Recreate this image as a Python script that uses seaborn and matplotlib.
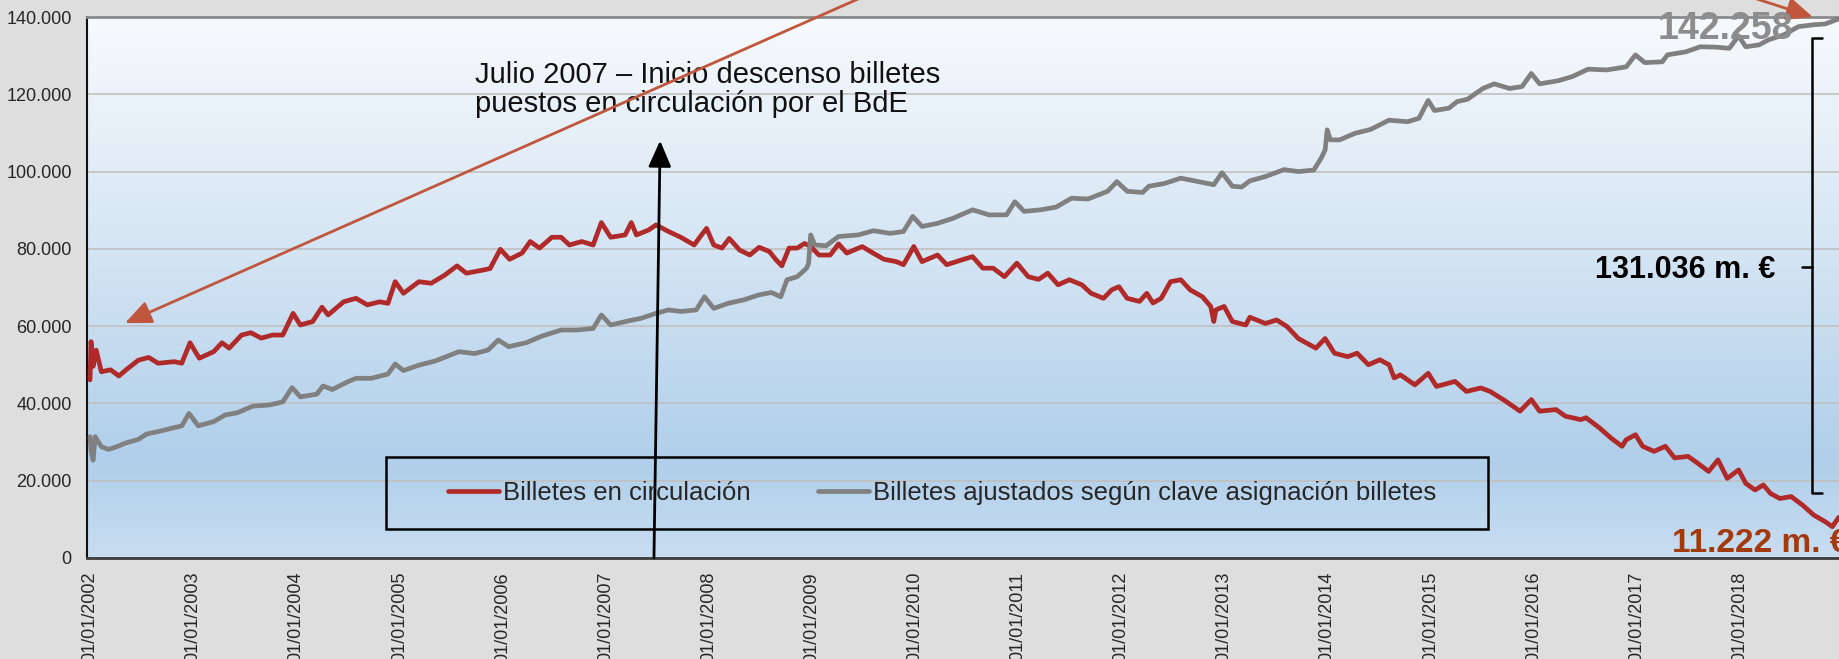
import matplotlib
matplotlib.use("Agg")
import matplotlib.pyplot as plt
import seaborn as sns
import pandas as pd
import numpy as np
from matplotlib.colors import LinearSegmentedColormap
from matplotlib.patches import Rectangle
from matplotlib.ticker import FuncFormatter

# Billetes en circulación (millones de euros), fecha en años decimales
red_years = [2002.00, 2002.01, 2002.03, 2002.06, 2002.11, 2002.20, 2002.28, 2002.35, 2002.47, 2002.57,
             2002.66, 2002.82, 2002.89, 2002.97, 2003.06, 2003.20, 2003.28, 2003.35, 2003.47, 2003.56,
             2003.66, 2003.77, 2003.87, 2003.97, 2004.04, 2004.16, 2004.25, 2004.31, 2004.46, 2004.58,
             2004.69, 2004.81, 2004.89, 2004.96, 2005.04, 2005.19, 2005.31, 2005.44, 2005.56, 2005.65,
             2005.81, 2005.88, 2005.98, 2006.07, 2006.19, 2006.27, 2006.36, 2006.48, 2006.57, 2006.65,
             2006.77, 2006.88, 2006.96, 2007.05, 2007.19, 2007.25, 2007.30, 2007.42, 2007.49, 2007.61,
             2007.73, 2007.86, 2007.92, 2007.98, 2008.05, 2008.13, 2008.20, 2008.30, 2008.40, 2008.49,
             2008.59, 2008.65, 2008.71, 2008.78, 2008.86, 2008.93, 2008.99, 2009.07, 2009.18, 2009.26,
             2009.34, 2009.49, 2009.57, 2009.70, 2009.82, 2009.89, 2009.99, 2010.07, 2010.22, 2010.31,
             2010.45, 2010.56, 2010.66, 2010.76, 2010.87, 2010.99, 2011.10, 2011.20, 2011.29, 2011.39,
             2011.50, 2011.62, 2011.71, 2011.83, 2011.91, 2011.98, 2012.06, 2012.18, 2012.25, 2012.31,
             2012.39, 2012.48, 2012.58, 2012.67, 2012.79, 2012.87, 2012.90, 2012.92, 2013.00, 2013.08,
             2013.21, 2013.25, 2013.40, 2013.51, 2013.61, 2013.72, 2013.89, 2013.98, 2014.07, 2014.20,
             2014.29, 2014.40, 2014.51, 2014.60, 2014.65, 2014.71, 2014.85, 2014.98, 2015.06, 2015.24,
             2015.35, 2015.49, 2015.58, 2015.73, 2015.87, 2015.98, 2016.06, 2016.22, 2016.31, 2016.46,
             2016.51, 2016.64, 2016.75, 2016.86, 2016.90, 2016.99, 2017.06, 2017.17, 2017.28, 2017.37,
             2017.50, 2017.59, 2017.70, 2017.79, 2017.88, 2017.99, 2018.06, 2018.15, 2018.23, 2018.30,
             2018.39, 2018.50, 2018.61, 2018.72, 2018.83, 2018.90, 2018.96]
red_values = [46100, 56000, 49600, 53800, 48200, 48700, 47100, 48700, 51200, 51900,
              50400, 50800, 50400, 55700, 51700, 53400, 55700, 54300, 57700, 58300,
              56900, 57700, 57700, 63300, 60300, 61200, 64900, 62900, 66300, 67200,
              65500, 66300, 65900, 71500, 68500, 71500, 71100, 73200, 75600, 73700,
              74500, 74900, 79900, 77300, 78900, 81900, 80200, 83000, 83000, 81000,
              81900, 81000, 86800, 83000, 83600, 86800, 83600, 84900, 86200, 84500,
              83000, 81000, 83200, 85300, 81000, 80200, 82700, 79700, 78400, 80400,
              79300, 77300, 75600, 80200, 80200, 81400, 80600, 78400, 78400, 81300,
              78900, 80600, 79300, 77300, 76700, 75900, 80600, 76700, 78400, 75900,
              77100, 78000, 75000, 75000, 72800, 76300, 72800, 72100, 73700, 70700,
              72000, 70700, 68500, 67200, 69400, 70200, 67200, 66400, 68500, 66000,
              67200, 71500, 72000, 69400, 67600, 65100, 61200, 64200, 65100, 61200,
              60300, 62300, 60700, 61600, 59900, 56800, 54300, 56800, 53000, 52100,
              53000, 50000, 51300, 50000, 46600, 47400, 44800, 47800, 44400, 45700,
              43100, 44000, 43100, 40600, 38000, 41000, 38000, 38400, 36700, 35800,
              36300, 33700, 31100, 28900, 30600, 31900, 28900, 27600, 28900, 25900,
              26300, 24600, 22400, 25400, 20600, 22800, 19300, 17600, 18900, 16700,
              15400, 15900, 13700, 11100, 9400, 8100, 10500]

# Billetes ajustados según clave asignación billetes
gray_years = [2002.00, 2002.01, 2002.03, 2002.05, 2002.11, 2002.18, 2002.26, 2002.35, 2002.47, 2002.55,
              2002.66, 2002.78, 2002.89, 2002.96, 2003.05, 2003.20, 2003.31, 2003.43, 2003.58, 2003.74,
              2003.87, 2003.96, 2004.04, 2004.20, 2004.26, 2004.35, 2004.50, 2004.58, 2004.73, 2004.89,
              2004.96, 2005.04, 2005.19, 2005.35, 2005.58, 2005.73, 2005.86, 2005.96, 2006.06, 2006.23,
              2006.38, 2006.57, 2006.73, 2006.88, 2006.96, 2007.05, 2007.23, 2007.34, 2007.49, 2007.61,
              2007.73, 2007.88, 2007.96, 2008.05, 2008.19, 2008.34, 2008.49, 2008.61, 2008.70, 2008.76,
              2008.86, 2008.95, 2008.97, 2008.99, 2009.03, 2009.14, 2009.26, 2009.45, 2009.60, 2009.76,
              2009.89, 2009.98, 2010.07, 2010.22, 2010.37, 2010.56, 2010.72, 2010.89, 2010.97, 2011.06,
              2011.22, 2011.37, 2011.52, 2011.68, 2011.87, 2011.96, 2012.06, 2012.21, 2012.27, 2012.42,
              2012.58, 2012.75, 2012.90, 2012.98, 2013.08, 2013.17, 2013.25, 2013.40, 2013.58, 2013.72,
              2013.87, 2013.94, 2013.98, 2014.00, 2014.03, 2014.12, 2014.27, 2014.42, 2014.60, 2014.78,
              2014.89, 2014.98, 2015.04, 2015.18, 2015.26, 2015.36, 2015.51, 2015.62, 2015.77, 2015.89,
              2015.98, 2016.06, 2016.24, 2016.38, 2016.53, 2016.71, 2016.90, 2016.99, 2017.08, 2017.25,
              2017.30, 2017.48, 2017.62, 2017.77, 2017.90, 2017.99, 2018.06, 2018.19, 2018.28, 2018.43,
              2018.57, 2018.72, 2018.83, 2018.96]
gray_values = [31400, 27900, 25300, 31400, 28800, 28100, 28800, 29800, 30700, 32100,
               32700, 33500, 34200, 37400, 34200, 35300, 37000, 37600, 39300, 39600,
               40400, 44100, 41700, 42400, 44500, 43600, 45600, 46500, 46500, 47600,
               50200, 48500, 49900, 51000, 53400, 52900, 53800, 56400, 54700, 55700,
               57400, 59000, 59000, 59400, 62900, 60300, 61400, 62000, 63300, 64200,
               63800, 64200, 67600, 64600, 65900, 66800, 68100, 68700, 67600, 72000,
               72800, 75000, 76300, 83600, 81000, 80800, 83200, 83600, 84700, 84000,
               84500, 88400, 85800, 86600, 87900, 90100, 88800, 88800, 92200, 89700,
               90100, 90800, 93100, 92900, 94900, 97400, 94900, 94600, 96200, 96900,
               98300, 97400, 96600, 99700, 96200, 96000, 97600, 98700, 100500, 100000,
               100400, 103400, 105600, 110800, 108200, 108200, 109900, 110900, 113300, 112900,
               113800, 118400, 115800, 116400, 118100, 118700, 121500, 122700, 121500, 122000,
               125400, 122700, 123500, 124600, 126500, 126300, 127100, 130200, 128200, 128400,
               130200, 131000, 132300, 132200, 131900, 135100, 132300, 132800, 134100, 135400,
               137500, 138000, 138200, 139500]

series_names = ["Billetes en circulación", "Billetes ajustados según clave asignación billetes"]
tick_years = list(range(2002, 2019))
tick_labels = [f"01/01/{y}" for y in tick_years]
y_ticks = [0, 20000, 40000, 60000, 80000, 100000, 120000, 140000]

df = pd.concat([
    pd.DataFrame({"fecha": red_years, "valor": red_values, "serie": series_names[0]}),
    pd.DataFrame({"fecha": gray_years, "valor": gray_values, "serie": series_names[1]}),
])

sns.set_theme(style="white")
plt.rcParams["font.family"] = ["Liberation Sans", "DejaVu Sans"]

W, H = 1839, 659
fig = plt.figure(figsize=(W / 100, H / 100), dpi=100, facecolor="#dedede")
ax = fig.add_axes([87 / W, 101 / H, (W - 87) / W, 541 / H])

# fondo degradado
grad_cmap = LinearSegmentedColormap.from_list(
    "fondo", [(0.0, "#c8ddf1"), (0.18, "#b0cfea"), (0.55, "#d3e4f3"), (1.0, "#f7fafd")])
grad = np.linspace(0, 1, 256).reshape(-1, 1)
ax.imshow(grad, extent=[0, 1, 0, 1], transform=ax.transAxes, aspect="auto",
          cmap=grad_cmap, origin="lower", zorder=0)

sns.lineplot(data=df, x="fecha", y="valor", hue="serie", estimator=None, sort=False,
             palette={series_names[0]: "#b02a2a", series_names[1]: "#808080"},
             linewidth=3.4, ax=ax, zorder=3)

ax.set_xlim(2002 - 3 / 103.1, 2002 + (W - 90) / 103.1)
ax.set_ylim(0, 140000)
ax.set_yticks(y_ticks)
ax.yaxis.set_major_formatter(FuncFormatter(lambda v, p: f"{int(v):,}".replace(",", ".")))
ax.set_xticks(tick_years)
ax.set_xticklabels(tick_labels, rotation=90, fontsize=13)
ax.tick_params(axis="y", labelsize=13, length=0, pad=11)
ax.tick_params(axis="x", length=0, pad=10)
ax.set_xlabel("")
ax.set_ylabel("")
ax.grid(axis="y", color="#c0c0c0", linewidth=1.2, zorder=1)
ax.set_axisbelow(True)

ax.spines["left"].set_color("#111111")
ax.spines["left"].set_linewidth(1.5)
ax.spines["bottom"].set_color("#3c3c3c")
ax.spines["bottom"].set_linewidth(2)
ax.spines["top"].set_color("#8a8a8a")
ax.spines["top"].set_linewidth(2)
ax.spines["right"].set_visible(False)

# leyenda con marco propio
handles, labels = ax.get_legend_handles_labels()
ax.legend(handles, labels, loc="center", bbox_to_anchor=(0.488, 0.120), ncol=2,
          frameon=False, fontsize=18.5, handlelength=2.0, handletextpad=0.15,
          columnspacing=2.6)
ax.add_patch(Rectangle((0.1707, 0.0536), 0.629, 0.1331, transform=ax.transAxes,
                       fill=False, edgecolor="black", linewidth=1.8, zorder=4))

# anotaciones
ax.text(2005.73, 128500, "Julio 2007 – Inicio descenso billetes\npuestos en circulación por el BdE",
        fontsize=21, va="top", ha="left", linespacing=1.02, color="#111111", zorder=5)
ax.annotate("", xy=(2007.53, 108000), xytext=(2007.47, 0),
            arrowprops=dict(arrowstyle="-|>,head_length=0.8,head_width=0.35",
                            color="black", lw=2, mutation_scale=20, shrinkA=0, shrinkB=0),
            annotation_clip=False, zorder=5)
ax.annotate("", xy=(2002.34, 60800), xytext=(2010.53, 157400),
            arrowprops=dict(arrowstyle="-|>,head_length=0.8,head_width=0.35",
                            color="#c0563c", lw=2, mutation_scale=20, shrinkA=0, shrinkB=0),
            annotation_clip=False, zorder=5)
ax.annotate("", xy=(2018.71, 140000), xytext=(2017.29, 152200),
            arrowprops=dict(arrowstyle="-|>,head_length=0.8,head_width=0.35",
                            color="#c0563c", lw=2, mutation_scale=20, shrinkA=0, shrinkB=0),
            annotation_clip=False, zorder=5)

ax.text(2017.86, 136800, "142.258", fontsize=27, fontweight="bold", color="#8c8c8c",
        ha="center", va="center", zorder=5, clip_on=False)
ax.text(2017.34, 1550, "11.222 m. €", fontsize=24, fontweight="bold", color="#a33a0c",
        ha="left", va="baseline", zorder=5, clip_on=False)
ax.text(2016.60, 74500, "131.036 m. €", fontsize=22, fontweight="bold", color="black",
        ha="left", va="center", zorder=5)

# llave
bx, bx_end, bx_mid = 2018.70, 2018.80, 2018.605
ax.plot([bx_end, bx, bx, bx_end], [134600, 134600, 16800, 16800], color="black",
        lw=1.8, clip_on=False, zorder=5)
ax.plot([bx_mid, bx], [75300, 75300], color="black", lw=1.8, clip_on=False, zorder=5)

fig.savefig("out.png", dpi=100, facecolor=fig.get_facecolor())
